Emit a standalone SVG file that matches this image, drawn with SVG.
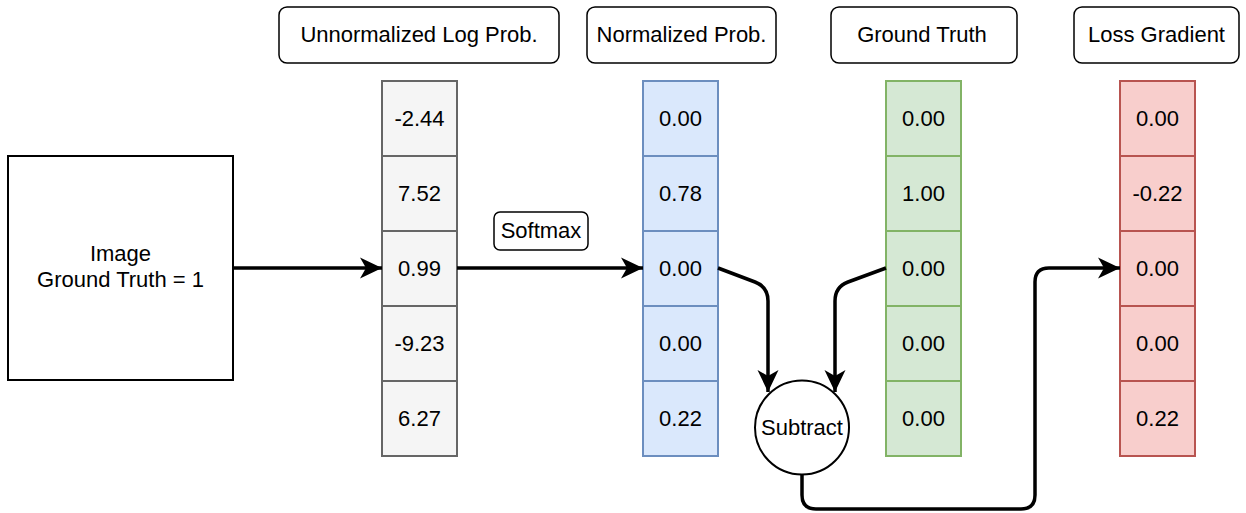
<svg xmlns="http://www.w3.org/2000/svg" width="1246" height="513" viewBox="0 0 1246 513">
  <style>
    text { font-family: "Liberation Sans", Arial, sans-serif; font-size: 22px; fill: #000; text-anchor: middle; }
    .hdr { fill: #fff; stroke: #000; stroke-width: 1.5; }
    .plain { fill: #fff; stroke: #000; stroke-width: 2; }
    .gray { fill: #f5f5f5; stroke: #666666; stroke-width: 2; }
    .blue { fill: #dae8fc; stroke: #6c8ebf; stroke-width: 2; }
    .green { fill: #d5e8d4; stroke: #82b366; stroke-width: 2; }
    .red { fill: #f8cecc; stroke: #b85450; stroke-width: 2; }
    .edge { fill: none; stroke: #000; stroke-width: 3.5; marker-end: url(#arrow); }
  </style>
  <defs>
    <marker id="arrow" markerUnits="userSpaceOnUse" markerWidth="24" markerHeight="24" viewBox="-23 -12 24 24" refX="0" refY="0" orient="auto">
      <path d="M0,0 L-22,-10.5 L-16,0 L-22,10.5 Z" fill="#000"/>
    </marker>
  </defs>

  <rect width="1246" height="513" fill="#fff"/>

  <!-- column headers -->
  <g id="hdr-unnormalized">
    <rect class="hdr" x="279" y="7" width="280" height="56" rx="8"/>
    <text x="419" y="41.5">Unnormalized Log Prob.</text>
  </g>
  <g id="hdr-normalized">
    <rect class="hdr" x="587" y="7" width="189" height="56" rx="8"/>
    <text x="681.5" y="41.5">Normalized Prob.</text>
  </g>
  <g id="hdr-ground-truth">
    <rect class="hdr" x="831" y="7" width="186" height="56" rx="8"/>
    <text x="922" y="41.5">Ground Truth</text>
  </g>
  <g id="hdr-loss-gradient">
    <rect class="hdr" x="1074" y="7" width="165" height="56" rx="8"/>
    <text x="1156.5" y="41.5">Loss Gradient</text>
  </g>

  <!-- input image -->
  <g id="image">
    <rect class="plain" x="8" y="156" width="225" height="224"/>
    <text x="120.5" y="261">Image</text>
    <text x="120.5" y="287">Ground Truth = 1</text>
  </g>

  <!-- logits -->
  <g id="logits">
    <rect class="gray" x="382" y="81" width="75" height="75"/>
    <rect class="gray" x="382" y="156" width="75" height="75"/>
    <rect class="gray" x="382" y="231" width="75" height="75"/>
    <rect class="gray" x="382" y="306" width="75" height="75"/>
    <rect class="gray" x="382" y="381" width="75" height="75"/>
    <text x="419.5" y="126">-2.44</text>
    <text x="419.5" y="201">7.52</text>
    <text x="419.5" y="276">0.99</text>
    <text x="419.5" y="351">-9.23</text>
    <text x="419.5" y="426">6.27</text>
  </g>

  <!-- probabilities -->
  <g id="probs">
    <rect class="blue" x="643" y="81" width="75" height="75"/>
    <rect class="blue" x="643" y="156" width="75" height="75"/>
    <rect class="blue" x="643" y="231" width="75" height="75"/>
    <rect class="blue" x="643" y="306" width="75" height="75"/>
    <rect class="blue" x="643" y="381" width="75" height="75"/>
    <text x="680.5" y="126">0.00</text>
    <text x="680.5" y="201">0.78</text>
    <text x="680.5" y="276">0.00</text>
    <text x="680.5" y="351">0.00</text>
    <text x="680.5" y="426">0.22</text>
  </g>

  <!-- one-hot ground truth -->
  <g id="truth">
    <rect class="green" x="886" y="81" width="75" height="75"/>
    <rect class="green" x="886" y="156" width="75" height="75"/>
    <rect class="green" x="886" y="231" width="75" height="75"/>
    <rect class="green" x="886" y="306" width="75" height="75"/>
    <rect class="green" x="886" y="381" width="75" height="75"/>
    <text x="923.5" y="126">0.00</text>
    <text x="923.5" y="201">1.00</text>
    <text x="923.5" y="276">0.00</text>
    <text x="923.5" y="351">0.00</text>
    <text x="923.5" y="426">0.00</text>
  </g>

  <!-- gradient -->
  <g id="gradient">
    <rect class="red" x="1120" y="81" width="75" height="75"/>
    <rect class="red" x="1120" y="156" width="75" height="75"/>
    <rect class="red" x="1120" y="231" width="75" height="75"/>
    <rect class="red" x="1120" y="306" width="75" height="75"/>
    <rect class="red" x="1120" y="381" width="75" height="75"/>
    <text x="1157.5" y="126">0.00</text>
    <text x="1157.5" y="201">-0.22</text>
    <text x="1157.5" y="276">0.00</text>
    <text x="1157.5" y="351">0.00</text>
    <text x="1157.5" y="426">0.22</text>
  </g>

  <!-- subtraction node -->
  <g id="subtract">
    <circle class="plain" cx="802" cy="427.5" r="47"/>
    <text x="802" y="434.5">Subtract</text>
  </g>

  <!-- connectors -->
  <g id="connectors">
    <path class="edge" d="M233,268 H382"/>
    <path class="edge" d="M457,268 H643"/>
    <path class="edge" d="M718,268 L755,282 Q768,287 768,301 V392"/>
    <path class="edge" d="M886,268 L848,282 Q835,287 835,301 V392"/>
    <path class="edge" d="M802,474.5 V495 Q802,509 816,509 H1021 Q1035,509 1035,495 V282 Q1035,268 1049,268 H1120"/>
  </g>

  <!-- edge label -->
  <g id="softmax-label">
    <rect class="hdr" x="494" y="212" width="94" height="38" rx="6"/>
    <text x="541" y="237.5">Softmax</text>
  </g>
</svg>
